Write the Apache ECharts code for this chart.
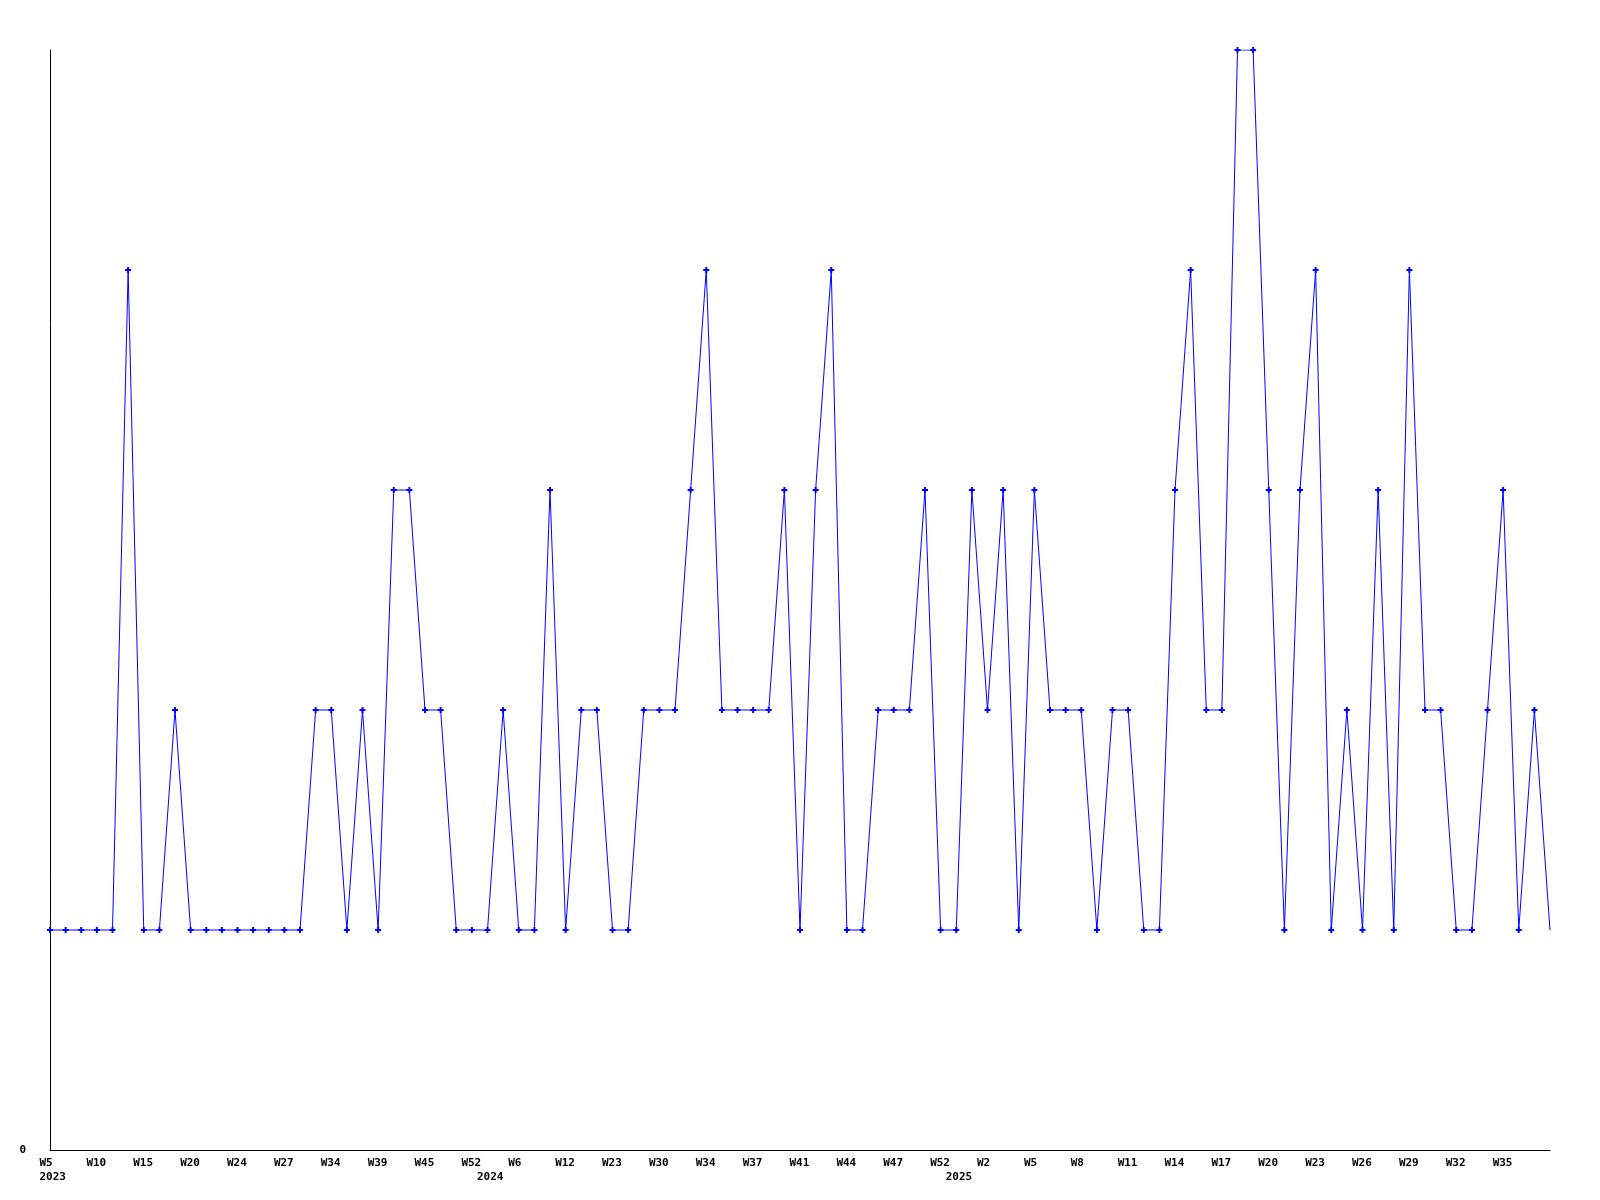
<!DOCTYPE html>
<html>
<head>
<meta charset="utf-8">
<style>
  html, body { margin: 0; padding: 0; background: #ffffff; }
  #chart { width: 1600px; height: 1200px; }
</style>
<script src="https://cdn.jsdelivr.net/npm/echarts@6/dist/echarts.min.js"></script>
</head>
<body>
<div id="chart"></div>
<script>
// Week categories (year-week); labels are shown every third point plus year starts
const categories = [
  '2023-W5','2023-W7','2023-W8','2023-W10','2023-W12','2023-W13','2023-W15','2023-W17','2023-W18','2023-W20',
  '2023-W21','2023-W22','2023-W24','2023-W25','2023-W26','2023-W27','2023-W30','2023-W32','2023-W34','2023-W36',
  '2023-W37','2023-W39','2023-W41','2023-W43','2023-W45','2023-W47','2023-W49','2023-W52','2024-W1','2024-W3',
  '2024-W6','2024-W8','2024-W10','2024-W12','2024-W16','2024-W19','2024-W23','2024-W26','2024-W28','2024-W30',
  '2024-W31','2024-W33','2024-W34','2024-W35','2024-W36','2024-W37','2024-W38','2024-W40','2024-W41','2024-W42',
  '2024-W43','2024-W44','2024-W45','2024-W46','2024-W47','2024-W49','2024-W51','2024-W52','2025-W1','2025-W1',
  '2025-W2','2025-W3','2025-W4','2025-W5','2025-W6','2025-W7','2025-W8','2025-W9','2025-W10','2025-W11',
  '2025-W12','2025-W13','2025-W14','2025-W15','2025-W16','2025-W17','2025-W18','2025-W19','2025-W20','2025-W21',
  '2025-W22','2025-W23','2025-W24','2025-W25','2025-W26','2025-W27','2025-W28','2025-W29','2025-W30','2025-W31',
  '2025-W32','2025-W33','2025-W34','2025-W35','2025-W36','2025-W37','2025-W38'
];

const values = [
  1,1,1,1,1,4,1,1,2,1,
  1,1,1,1,1,1,1,2,2,1,
  2,1,3,3,2,2,1,1,1,2,
  1,1,3,1,2,2,1,1,2,2,
  2,3,4,2,2,2,2,3,1,3,
  4,1,1,2,2,2,3,1,1,3,
  2,3,1,3,2,2,2,1,2,2,
  1,1,3,4,2,2,5,5,3,1,
  3,4,1,2,1,3,1,4,2,2,
  1,1,2,3,1,2,1
];

const yTicks = [0, 5];

const lastIndex = categories.length - 1;
function yearOf(i) { return categories[i].split('-')[0]; }
function weekOf(i) { return categories[i].split('-')[1]; }
function isYearStart(i) { return i === 0 || yearOf(i) !== yearOf(i - 1); }
function showWeek(i) { return i % 3 === 0 && i !== lastIndex; }

const plusPath = 'path://M2,0L4,0L4,2L6,2L6,4L4,4L4,6L2,6L2,4L0,4L0,2L2,2Z';

const chart = echarts.init(document.getElementById('chart'), null, { renderer: 'canvas' });
chart.setOption({
  animation: false,
  backgroundColor: '#ffffff',
  grid: { left: 50, right: 50, top: 50, bottom: 50, containLabel: false },
  xAxis: {
    type: 'category',
    data: categories,
    boundaryGap: false,
    axisLine: { show: true, lineStyle: { color: '#000000', width: 1 } },
    axisTick: { show: false },
    splitLine: { show: false },
    axisLabel: {
      interval: function (i) { return showWeek(i) || isYearStart(i); },
      margin: 6,
      formatter: function (v, i) {
        const w = showWeek(i) ? weekOf(i) : ' ';
        if (isYearStart(i)) return '{w|' + w + '}\n{w|' + yearOf(i) + '}';
        return '{w|' + w + '}';
      },
      rich: {
        w: {
          width: 21, align: 'left', fontFamily: 'DejaVu Sans Mono', fontWeight: 'bold',
          fontSize: 11, lineHeight: 14, color: '#000000'
        }
      }
    }
  },
  yAxis: {
    type: 'value',
    min: yTicks[0],
    max: yTicks[1],
    interval: 5,
    axisLine: { show: true, lineStyle: { color: '#000000', width: 1 } },
    axisTick: { show: false },
    splitLine: { show: false },
    axisLabel: {
      margin: 24,
      showMaxLabel: false,
      fontFamily: 'DejaVu Sans Mono', fontWeight: 'bold', fontSize: 11, color: '#000000'
    }
  },
  series: [{
    type: 'line',
    data: values.map(function (v, i) {
      return i === lastIndex ? { value: v, symbol: 'none' } : v;
    }),
    symbol: plusPath,
    symbolSize: 6,
    showAllSymbol: true,
    lineStyle: { color: '#0000ff', width: 1 },
    itemStyle: { color: '#0000ff' },
    emphasis: { disabled: true }
  }]
});
</script>
</body>
</html>
